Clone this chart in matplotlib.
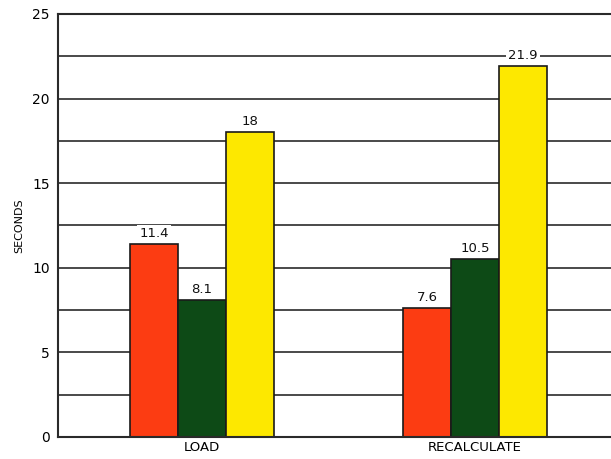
import matplotlib.pyplot as plt
import numpy as np

# data
categories = ['LOAD', 'RECALCULATE']
red_vals = [11.4, 7.6]
green_vals = [8.1, 10.5]
yellow_vals = [18, 21.9]
yticks = [0, 5, 10, 15, 20, 25]

fig = plt.figure(figsize=(6.11, 4.59), dpi=100)
ax = fig.add_axes([0.095, 0.048, 0.905, 0.9215])

x = np.arange(len(categories))
w = 0.176
series = [(red_vals, '#fc3c12'), (green_vals, '#0d4a16'), (yellow_vals, '#fde800')]

# grid every 2.5 behind the bars
for g in np.arange(2.5, 25.1, 2.5):
    ax.axhline(g, color='#3a3a3a', lw=1.3, zorder=0)

for i, (vals, col) in enumerate(series):
    xs = x + (i - 1) * w
    ax.bar(xs, vals, width=w, color=col, edgecolor='#1a1a1a', lw=1.2, zorder=2)
    for xi, v in zip(xs, vals):
        ax.text(xi, v + 0.25, f'{v:g}', ha='center', va='bottom', fontsize=9.5,
                color='#111111', zorder=3,
                bbox=dict(facecolor='white', edgecolor='none', pad=1.5))

ax.set_xlim(-0.527, 1.498)
ax.set_ylim(0, 25)
ax.set_yticks(yticks)
ax.set_yticklabels([str(t) for t in yticks], fontsize=10)
ax.set_xticks(x)
ax.set_xticklabels(categories, fontsize=9.5)
ax.tick_params(length=0, pad=6)
ax.tick_params(axis='x', pad=3)
ax.set_ylabel('SECONDS', fontsize=8, labelpad=6)

for s in ['left', 'bottom', 'top']:
    ax.spines[s].set_color('#2a2a2a')
    ax.spines[s].set_linewidth(1.5)
ax.spines['right'].set_visible(False)

plt.savefig('out.png', dpi=100)
